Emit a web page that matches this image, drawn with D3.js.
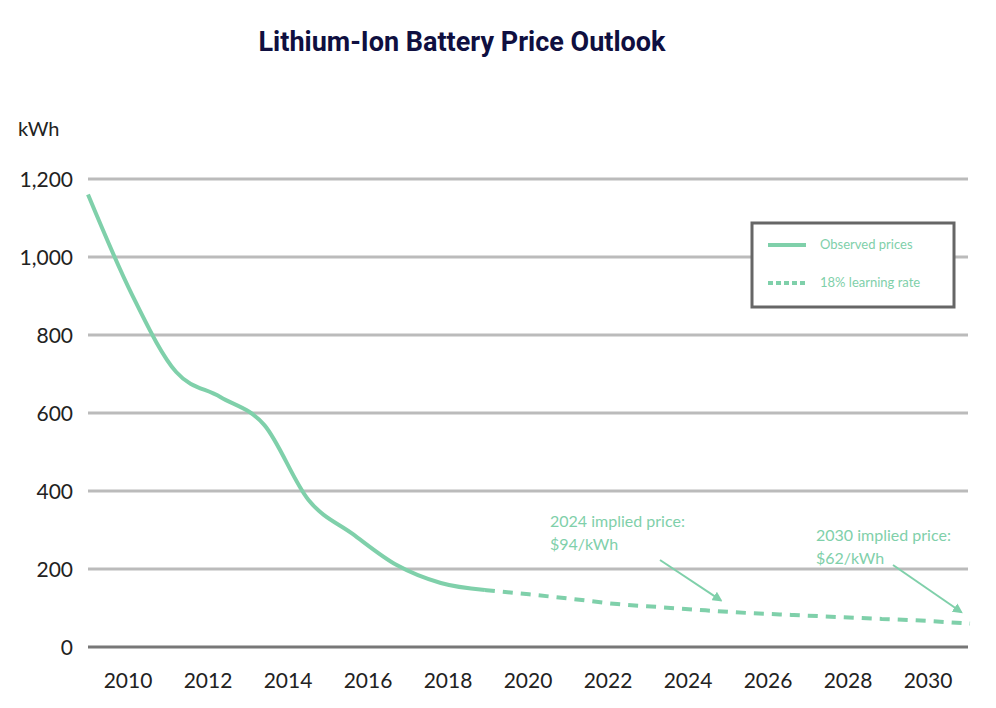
<!DOCTYPE html>
<html><head><meta charset="utf-8">
<script src="https://cdn.jsdelivr.net/npm/d3@7"></script>
<style>body{margin:0;background:#fff}</style></head>
<body><svg id="c" width="996" height="708"></svg>
<script>
const observedYears=[2010,2011,2012,2013,2014,2015,2016,2017,2018,2019];
const observedPrices=[1160,903,705,641,569,377,290,210,164,146];
const forecastYears=[2019,2020,2021,2022,2023,2024,2025,2026,2027,2028,2029,2030];
const forecastPrices=[146,135,123,110,102,94,87,82,77,72,67,60];
const yTicks=[0,200,400,600,800,1000,1200];
const xTicks=[2010,2012,2014,2016,2018,2020,2022,2024,2026,2028,2030];
const green="#7fd0aa";
const svg=d3.select("#c");
const y=d3.scaleLinear().domain([0,1200]).range([647,179]);
const xd=d3.scaleLinear().domain([2010,2030]).range([88,970]);
const xt=d3.scaleLinear().domain([2009,2031]).range([88,968]);
svg.append("text").attr("x",462).attr("y",51).attr("text-anchor","middle")
 .attr("font-family","Roboto, sans-serif").attr("font-weight","bold").attr("font-size",27)
 .attr("fill","#0f0f40").text("Lithium-Ion Battery Price Outlook");
svg.append("text").attr("x",18).attr("y",136).attr("font-family","Lato, sans-serif").attr("font-size",20).attr("fill","#222").text("kWh");
const g=svg.append("g");
g.selectAll("line.grid").data(yTicks).join("line").attr("x1",88).attr("x2",968)
 .attr("y1",d=>y(d)).attr("y2",d=>y(d)).attr("stroke",d=>d===0?"#777":"#bbb").attr("stroke-width",3);
g.selectAll("text.yt").data(yTicks).join("text").attr("x",73).attr("y",d=>y(d)+8)
 .attr("text-anchor","end").attr("font-family","Lato, sans-serif").attr("font-size",21).attr("fill","#222")
 .text(d=>d3.format(",")(d));
g.selectAll("text.xt").data(xTicks).join("text").attr("x",d=>xt(d)).attr("y",688)
 .attr("text-anchor","middle").attr("font-family","Lato, sans-serif").attr("font-size",21).attr("fill","#222").text(d=>d);
const line=d3.line().x(d=>xd(d[0])).y(d=>y(d[1])).curve(d3.curveMonotoneX);
svg.append("path").attr("d",line(observedYears.map((v,i)=>[v,observedPrices[i]])))
 .attr("fill","none").attr("stroke",green).attr("stroke-width",4);
svg.append("path").attr("d",line(forecastYears.map((v,i)=>[v,forecastPrices[i]])))
 .attr("fill","none").attr("stroke",green).attr("stroke-width",4).attr("stroke-dasharray","10,8");
svg.append("rect").attr("x",752).attr("y",223).attr("width",202).attr("height",84).attr("fill","#fff").attr("stroke","#666").attr("stroke-width",3);
svg.append("line").attr("x1",768).attr("x2",806).attr("y1",245).attr("y2",245).attr("stroke",green).attr("stroke-width",4);
svg.append("line").attr("x1",768).attr("x2",806).attr("y1",283).attr("y2",283).attr("stroke",green).attr("stroke-width",4).attr("stroke-dasharray","5,3");
[["Observed prices",249],["18% learning rate",287]].forEach(([t,yy])=>svg.append("text").attr("x",820).attr("y",yy)
 .attr("font-family","Lato, sans-serif").attr("font-size",13).attr("fill",green).text(t));
svg.append("defs").append("marker").attr("id","ah").attr("viewBox","0 0 10 10").attr("refX",8).attr("refY",5)
 .attr("markerWidth",5).attr("markerHeight",5).attr("orient","auto").append("path").attr("d","M0,0L10,5L0,10z").attr("fill",green);
function ann(lines,tx,ty,ax1,ay1,year,val){
 lines.forEach((l,i)=>svg.append("text").attr("x",tx).attr("y",ty+i*23).attr("font-family","Lato, sans-serif")
  .attr("font-size",16).attr("fill",green).text(l));
 svg.append("line").attr("x1",ax1).attr("y1",ay1).attr("x2",xd(year)).attr("y2",y(val)-10)
  .attr("stroke",green).attr("stroke-width",2).attr("marker-end","url(#ah)");
}
ann(["2024 implied price:","$94/kWh"],550,527,660,560,2024.35,94);
ann(["2030 implied price:","$62/kWh"],816,541,893,565,2029.8,64);
</script></body></html>
